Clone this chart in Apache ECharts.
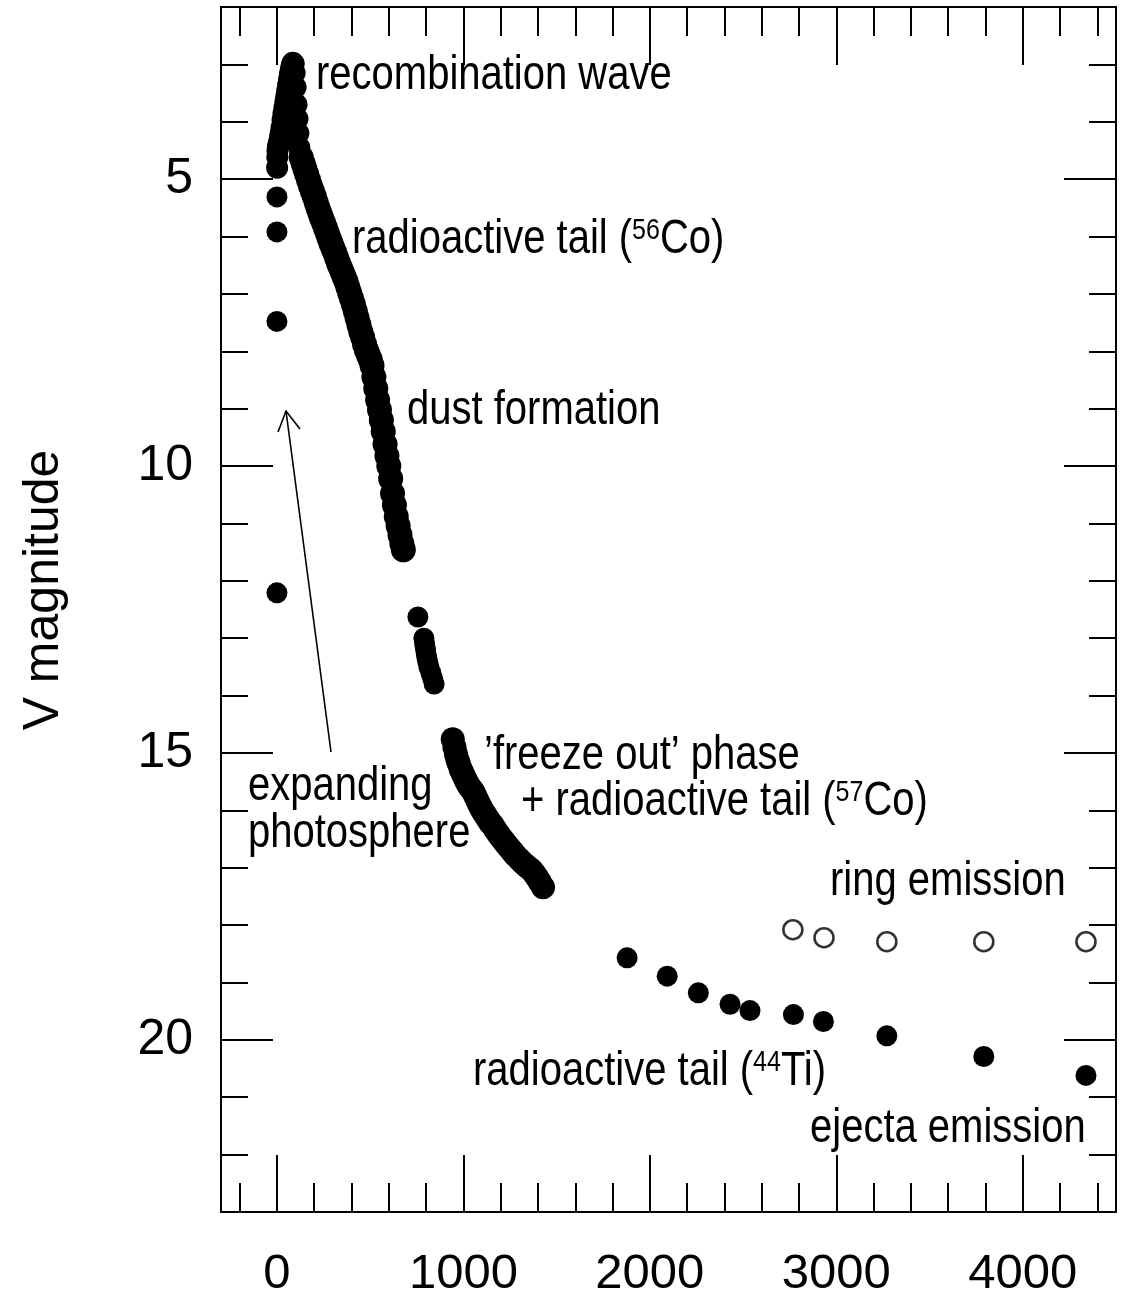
<!DOCTYPE html>
<html><head><meta charset="utf-8">
<script src="https://cdn.jsdelivr.net/npm/echarts@6/dist/echarts.min.js"></script>
<style>html,body{margin:0;padding:0;background:#fff}#c{width:1128px;height:1299px}</style>
</head><body><div id="c"></div>
<script>
// ---- data (days since explosion, V magnitude) ----
const preDays = [0, 0, 0, 0];
const preMag  = [5.31, 5.92, 7.48, 12.21];

const peakDays = [1,2,3,5,8,12,16,20,25,30,35,40,45,50,55,60,65,70,75,80,85,90,95,100,105,110,115,120];
const peakMag  = [4.80,4.62,4.50,4.45,4.40,4.35,4.28,4.20,4.10,3.97,3.86,3.76,3.66,3.56,3.46,3.36,3.26,3.16,3.08,3.01,2.97,2.99,3.15,3.40,3.70,3.95,4.20,4.45];

const tailDays = [130,140,150,160,170,180,190,200,210,220,230,240,250,260,270,280,290,300,310,320,330,340,350,360,370,380,390,400,410,420,430,440,450,460,470,480,490,500,510,520,530,540,550,560,570,580,590,600,610,620,630,640,650,660,670,678];
const tailMag  = [4.62,4.72,4.82,4.92,5.02,5.12,5.21,5.30,5.40,5.50,5.59,5.68,5.76,5.85,5.94,6.03,6.12,6.20,6.28,6.37,6.46,6.54,6.62,6.70,6.78,6.88,6.98,7.08,7.18,7.30,7.42,7.54,7.66,7.76,7.88,7.98,8.06,8.14,8.25,8.45,8.65,8.85,9.02,9.20,9.40,9.62,9.82,10.00,10.22,10.48,10.68,10.88,11.04,11.20,11.35,11.46];

const dipDays = [756, 788, 792, 797, 802, 808, 815, 825, 835, 843];
const dipMag  = [12.63, 13.00, 13.10, 13.20, 13.30, 13.40, 13.50, 13.60, 13.70, 13.80];

const freezeDays = [943,952,960,968,975,985,995,1005,1015,1025,1035,1045,1055,1065,1075,1085,1095,1105,1115,1125,1135,1145,1157,1170,1185,1200,1215,1230,1245,1260,1275,1290,1305,1320,1335,1350,1365,1380,1395,1410,1427];
const freezeMag  = [14.76,14.90,15.02,15.12,15.18,15.28,15.35,15.42,15.49,15.55,15.60,15.64,15.69,15.76,15.83,15.90,15.96,16.02,16.07,16.12,16.17,16.22,16.26,16.33,16.40,16.47,16.53,16.59,16.65,16.71,16.77,16.82,16.87,16.92,16.96,17.00,17.04,17.10,17.17,17.25,17.34];

const lateDays = [1878, 2093, 2260, 2430, 2537, 2770, 2931, 3271, 3791, 4339];
const lateMag  = [18.57, 18.89, 19.18, 19.38, 19.49, 19.56, 19.68, 19.93, 20.29, 20.62];

const ringDays = [2767, 2934, 3271, 3791, 4339];
const ringMag  = [18.08, 18.22, 18.29, 18.29, 18.29];

// ---- axis ticks ----
const xMajor = [0, 1000, 2000, 3000, 4000];
const xMinor = [-200,200,400,600,800,1200,1400,1600,1800,2200,2400,2600,2800,3200,3400,3600,3800,4200,4400];
const yMajor = [5, 10, 15, 20];
const yMinor = [3,4,6,7,8,9,11,12,13,14,16,17,18,19,21,22];

const zip = (a, b) => a.map((v, i) => [v, b[i]]);
const FONT = "'Liberation Sans', Arial, Helvetica, sans-serif";
const BLACK = '#000';

function xAx(pos, ticks, len, labels, line) {
  return {
    type: 'value', position: pos, min: -300, max: 4500,
    axisLine: { show: line, onZero: false, lineStyle: { color: BLACK, width: 2 } },
    axisTick: { show: true, inside: true, length: len, customValues: ticks, lineStyle: { color: BLACK, width: 2 } },
    axisLabel: labels ? { show: true, customValues: ticks, fontSize: 49, fontFamily: FONT, color: BLACK, margin: 38,
      formatter: function (v) { return String(v); } } : { show: false },
    splitLine: { show: false }
  };
}
function yAx(pos, ticks, len, labels, line) {
  return {
    type: 'value', position: pos, min: 2, max: 23, inverse: true,
    axisLine: { show: line, onZero: false, lineStyle: { color: BLACK, width: 2 } },
    axisTick: { show: true, inside: true, length: len, customValues: ticks, lineStyle: { color: BLACK, width: 2 } },
    axisLabel: labels ? { show: true, customValues: ticks, fontSize: 50, fontFamily: FONT, color: BLACK, margin: 28,
      formatter: function (v) { return String(v); } } : { show: false },
    splitLine: { show: false }
  };
}

function filled(data, size) {
  return { type: 'scatter', xAxisIndex: 0, yAxisIndex: 0, data: data, symbol: 'circle', symbolSize: size,
    itemStyle: { color: BLACK, opacity: 1 }, emphasis: { disabled: true }, silent: true, animation: false };
}

const chart = echarts.init(document.getElementById('c'), null, { renderer: 'canvas' });

const FS = 40, SY = 1.2;
function txt(x, baseline, text, rich) {
  const o = { type: 'text', x: x, y: baseline - 0.3465 * FS * SY, scaleY: SY, silent: true,
    style: { text: text, font: FS + 'px ' + FONT, fill: BLACK, verticalAlign: 'middle', align: 'left' } };
  if (rich) {
    o.style.rich = {
      n: { fontSize: FS, fontFamily: FONT, fill: BLACK },
      s: { fontSize: 25, fontFamily: FONT, fill: BLACK, verticalAlign: 'top', lineHeight: 17 }
    };
  }
  return o;
}

chart.setOption({
  backgroundColor: '#fff',
  animation: false,
  grid: { left: 221, right: 12, top: 7, bottom: 83, containLabel: false },
  xAxis: [
    xAx('bottom', xMajor, 57, true, true),
    xAx('bottom', xMinor, 29, false, false),
    xAx('top', xMajor, 58, false, true),
    xAx('top', xMinor, 29, false, false)
  ],
  yAxis: [
    yAx('left', yMajor, 52, true, true),
    yAx('left', yMinor, 27, false, false),
    yAx('right', yMajor, 52, false, true),
    yAx('right', yMinor, 27, false, false)
  ],
  series: [
    filled(zip(preDays, preMag), 21),
    filled(zip(peakDays, peakMag), 22),
    filled(zip(tailDays, tailMag), 25),
    filled(zip(dipDays, dipMag), 21),
    filled(zip(freezeDays, freezeMag), 24),
    filled(zip(lateDays, lateMag), 21),
    { type: 'scatter', xAxisIndex: 0, yAxisIndex: 0, data: zip(ringDays, ringMag), symbol: 'circle', symbolSize: 19,
      itemStyle: { color: '#fff', borderColor: BLACK, borderWidth: 2.6 }, emphasis: { disabled: true }, silent: true }
  ],
  graphic: [
    { type: 'text', x: 44, y: 590, rotation: Math.PI / 2, silent: true,
      style: { text: 'V magnitude', font: '50px ' + FONT, fill: BLACK, align: 'center', verticalAlign: 'middle' } },
    txt(316, 92, 'recombination wave'),
    txt(352, 256, '{n|radioactive tail (}{s|56}{n|Co)}', true),
    txt(407, 427, 'dust formation'),
    txt(484, 772, '\u2019freeze out\u2019 phase'),
    txt(521, 818, '{n|+ radioactive tail (}{s|57}{n|Co)}', true),
    txt(248, 803, 'expanding'),
    txt(248, 850, 'photosphere'),
    txt(830, 898, 'ring emission'),
    txt(473, 1088, '{n|radioactive tail (}{s|44}{n|Ti)}', true),
    txt(810, 1145, 'ejecta emission'),
    { type: 'line', silent: true, shape: { x1: 331, y1: 752, x2: 286, y2: 411 }, style: { stroke: BLACK, lineWidth: 1.6 } },
    { type: 'polyline', silent: true, shape: { points: [[278, 432], [286, 411], [300, 429]] }, style: { stroke: BLACK, lineWidth: 1.6, fill: null } }
  ]
});
</script>
</body></html>
